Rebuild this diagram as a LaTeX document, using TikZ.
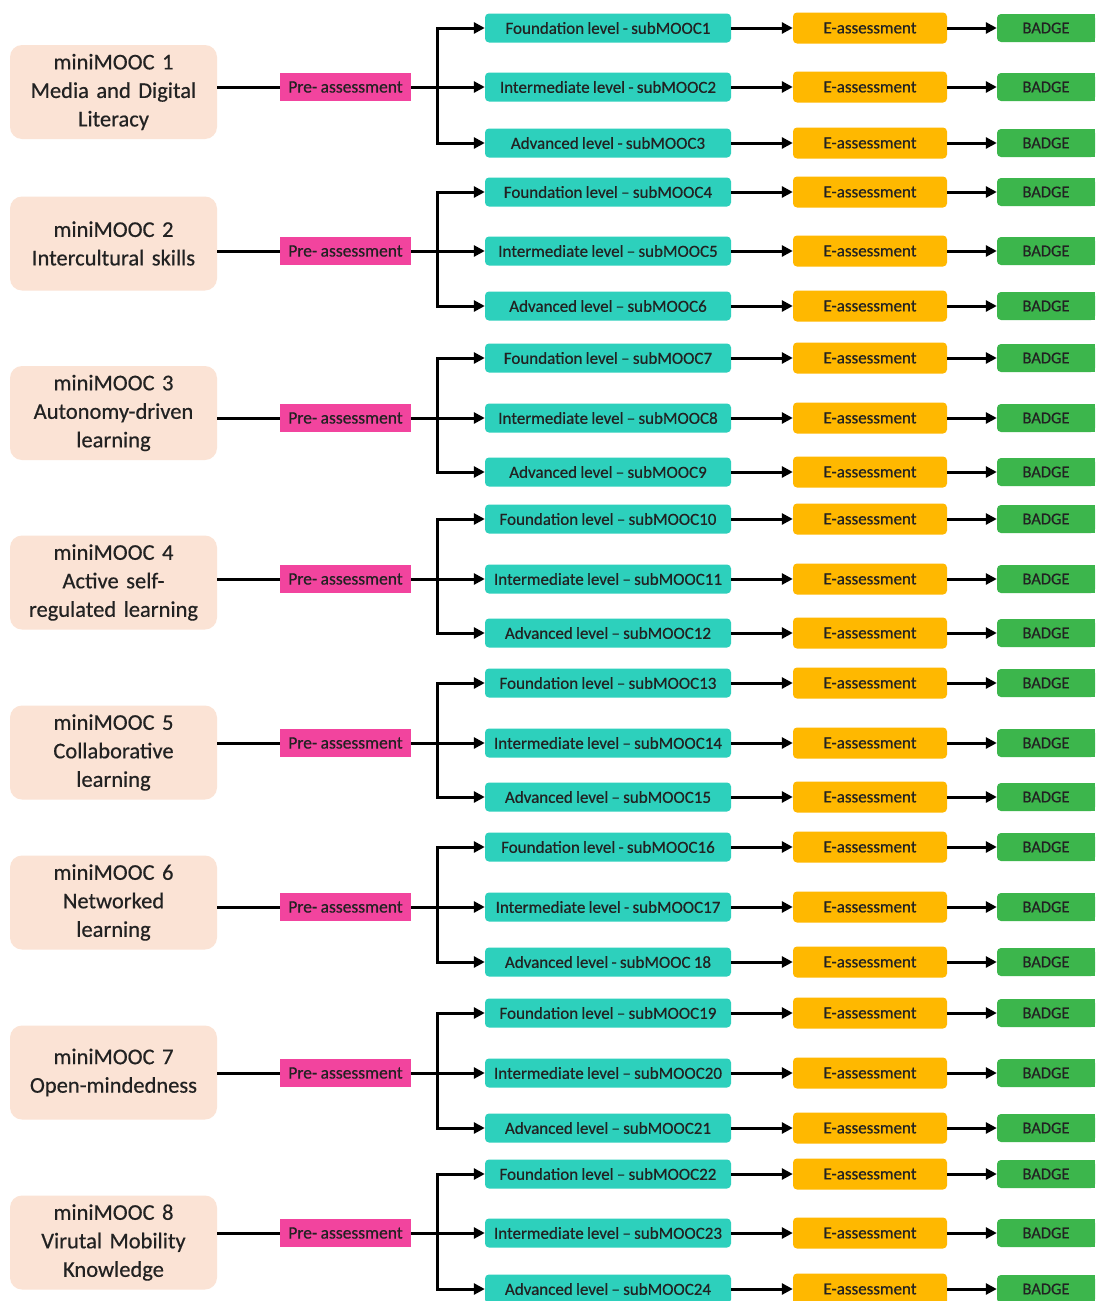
\documentclass[tikz,border=0pt]{standalone}
\usepackage{fontspec}
\setmainfont{Carlito}[FakeBold=0.5,WordSpace=0.85]
\usetikzlibrary{arrows.meta}
\definecolor{peach}{HTML}{FBE3D5}
\definecolor{pinkc}{HTML}{F2449E}
\definecolor{tealc}{HTML}{2DD0BC}
\definecolor{orangec}{HTML}{FFB800}
\definecolor{greenc}{HTML}{3CB64C}
\definecolor{txt}{HTML}{222222}
\tikzset{
  mainbox/.style={fill=peach, rounded corners=12pt, minimum width=207pt, minimum height=94pt,
    text width=200pt, align=center, inner sep=0pt, text=txt,
    font=\fontsize{22.5}{28.5}\selectfont},
  prebox/.style={fill=pinkc, minimum width=131pt, minimum height=28pt, inner sep=0pt,
    text=txt, font=\fontsize{17.5}{20}\selectfont},
  subbox/.style={fill=tealc, rounded corners=4pt, minimum width=246pt, minimum height=29pt,
    inner sep=0pt, text=txt, font=\fontsize{17}{20}\selectfont},
  ebox/.style={fill=orangec, rounded corners=4pt, minimum width=154pt, minimum height=31pt,
    inner sep=0pt, text=txt, font=\fontsize{17}{20}\selectfont},
  badgebox/.style={fill=greenc, rounded corners=4pt, minimum width=98pt, minimum height=28pt,
    inner sep=0pt, text=txt, font=\fontsize{16.5}{20}\selectfont},
  conn/.style={line width=3pt, black},
  arr/.style={conn, -{Triangle[length=11pt,width=11pt]}},
}
\newcommand\mblock[4]{%
  \node[mainbox] (m#1) at (113.5,#2) {#4};
  \node[prebox] (p#1) at (345.5,#3) {Pre- assessment};
  \coordinate (j#1) at (437,#3);
  \draw[conn] (m#1.east |- p#1.west) -- (p#1.west);
  \draw[conn] (p#1.east) -- (j#1);
}
\newcommand\srow[4]{%
  \node[subbox] (s#1#2) at (608,#3) {#4};
  \node[ebox] (e#1#2) at (870,#3) {E-assessment};
  \node[badgebox] (b#1#2) at (1046,#3) {BADGE};
  \fill[greenc] ([xshift=-20pt]b#1#2.north east) rectangle (b#1#2.south east);
  \draw[arr] (j#1) |- (s#1#2.west);
  \draw[arr] (s#1#2.east) -- (e#1#2.west);
  \draw[arr] (e#1#2.east) -- (b#1#2.west);
}
\begin{document}
\begin{tikzpicture}[x=1pt,y=-1pt]
\useasboundingbox (0,0) rectangle (1095,1301);
\clip (0,0) rectangle (1095,1301);
\fill[white] (0,0) rectangle (1095,1301);
% block 1
\mblock{1}{92}{87}{miniMOOC 1\\Media and Digital\\Literacy}
\srow{1}{a}{28}{Foundation level - subMOOC1}
\srow{1}{b}{87}{Intermediate level - subMOOC2}
\srow{1}{c}{143}{Advanced level - subMOOC3}
% block 2
\mblock{2}{243.5}{251}{miniMOOC 2\\Intercultural skills}
\srow{2}{a}{192}{Foundation level -- subMOOC4}
\srow{2}{b}{251}{Intermediate level -- subMOOC5}
\srow{2}{c}{306}{Advanced level -- subMOOC6}
% block 3
\mblock{3}{413}{418}{miniMOOC 3\\Autonomy-driven\\learning}
\srow{3}{a}{358}{Foundation level -- subMOOC7}
\srow{3}{b}{418}{Intermediate level -- subMOOC8}
\srow{3}{c}{472}{Advanced level -- subMOOC9}
% block 4
\mblock{4}{582.5}{579}{miniMOOC 4\\Active self-\\regulated learning}
\srow{4}{a}{519}{Foundation level -- subMOOC10}
\srow{4}{b}{579}{Intermediate level -- subMOOC11}
\srow{4}{c}{633}{Advanced level -- subMOOC12}
% block 5
\mblock{5}{752.5}{743}{miniMOOC 5\\Collaborative\\learning}
\srow{5}{a}{683}{Foundation level -- subMOOC13}
\srow{5}{b}{743}{Intermediate level -- subMOOC14}
\srow{5}{c}{797}{Advanced level -- subMOOC15}
% block 6
\mblock{6}{902.5}{907}{miniMOOC 6\\Networked\\learning}
\srow{6}{a}{847}{Foundation level - subMOOC16}
\srow{6}{b}{907}{Intermediate level - subMOOC17}
\srow{6}{c}{962}{Advanced level - subMOOC 18}
% block 7
\mblock{7}{1072.5}{1073}{miniMOOC 7\\Open-mindedness}
\srow{7}{a}{1013}{Foundation level -- subMOOC19}
\srow{7}{b}{1073}{Intermediate level -- subMOOC20}
\srow{7}{c}{1128}{Advanced level -- subMOOC21}
% block 8
\mblock{8}{1242.5}{1233}{miniMOOC 8\\Virutal Mobility\\Knowledge}
\srow{8}{a}{1174}{Foundation level -- subMOOC22}
\srow{8}{b}{1233}{Intermediate level -- subMOOC23}
\srow{8}{c}{1289}{Advanced level -- subMOOC24}
\end{tikzpicture}
\end{document}
